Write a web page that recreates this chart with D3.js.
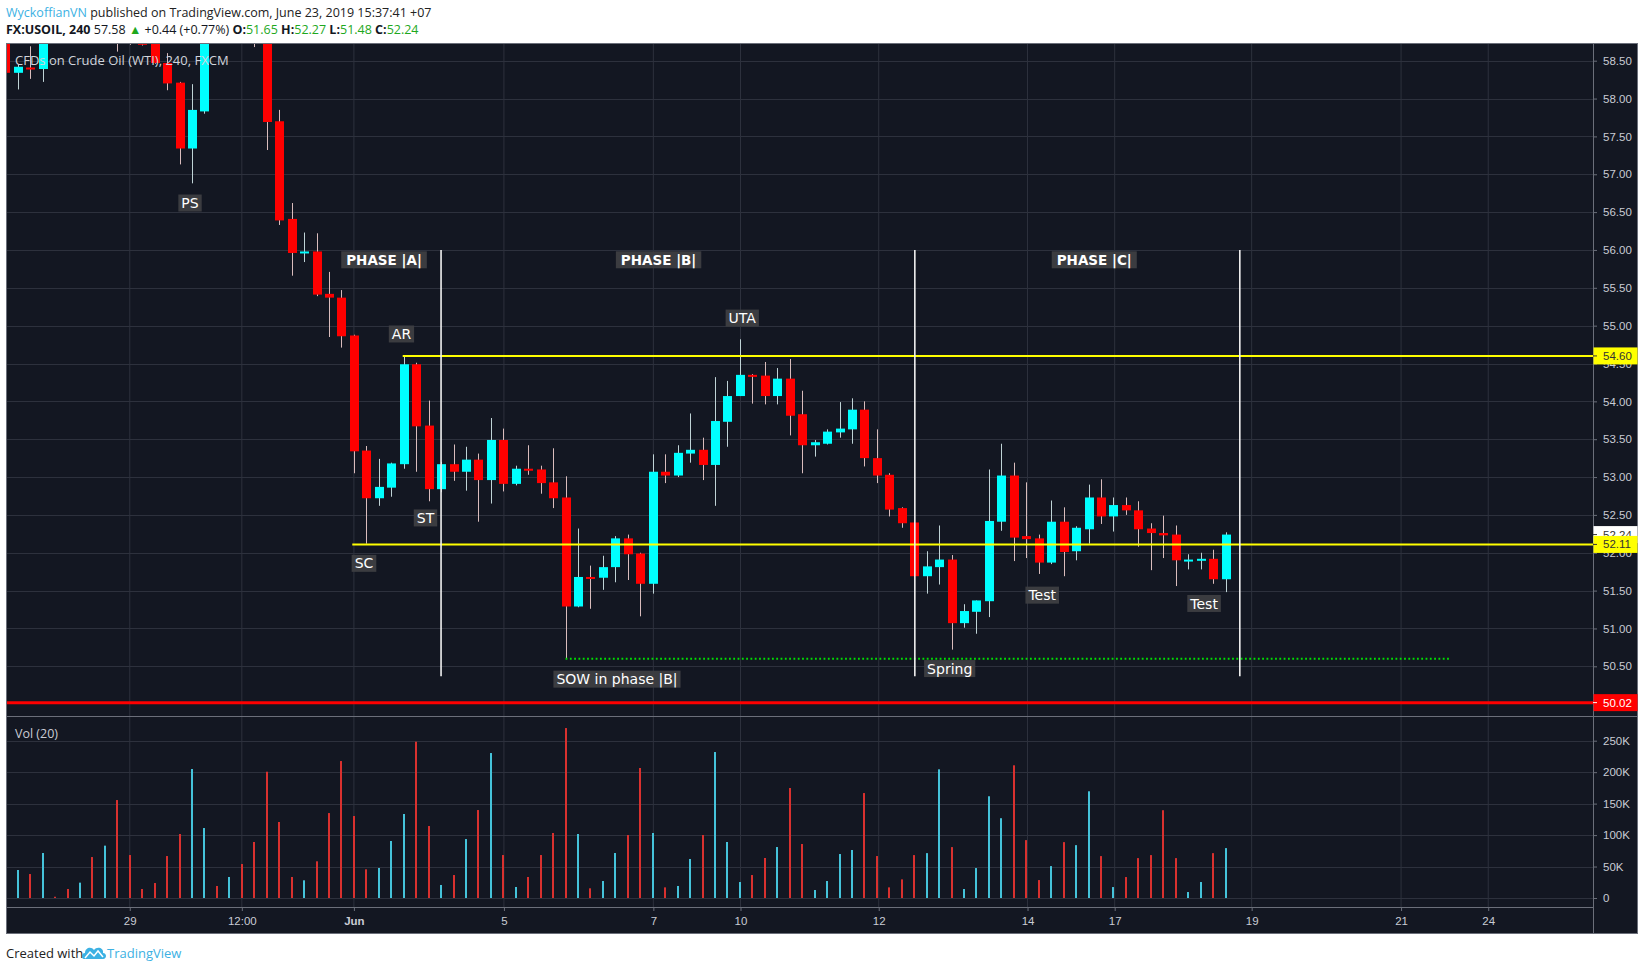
<!DOCTYPE html>
<html>
<head>
<meta charset="utf-8">
<script src="https://cdn.jsdelivr.net/npm/d3@7/dist/d3.min.js"></script>
<style>
body { margin: 0; background: #fff; }
svg { display: block; }
text { font-family: "Open Sans", sans-serif; }
.axis path { display: none; }
.axis line { stroke: #6b6f7a; }
.axis text { fill: #c9ccd4; font-family: "Liberation Sans", Arial, sans-serif; font-size: 11.5px; }
</style>
</head>
<body>
<svg id="chart" width="1645" height="971"></svg>
<script>
// 4h candles, first entry is bar -1 (cut at the left edge)
var opens = [59.00,58.34,58.41,58.39,58.98,58.96,58.90,59.05,58.88,59.15,58.85,58.80,58.75,58.47,58.21,57.34,57.83,58.95,58.85,59.00,59.00,58.86,57.70,56.41,55.96,55.98,55.42,55.37,54.87,53.35,52.72,52.86,53.17,54.49,53.68,52.84,53.17,53.07,53.23,52.96,53.49,52.91,53.11,53.10,52.93,52.73,51.29,51.68,51.67,51.81,52.19,51.99,51.59,53.07,53.02,53.31,53.36,53.16,53.73,54.07,54.35,54.34,54.07,54.30,53.83,53.42,53.44,53.59,53.63,53.89,53.25,53.03,52.59,52.40,51.69,51.81,51.91,51.07,51.22,51.36,52.41,53.02,52.22,52.19,51.87,52.41,52.02,52.31,52.73,52.48,52.63,52.56,52.32,52.26,52.24,51.90,51.90,51.92,51.65];
var highs = [59.10,58.45,58.69,59.05,59.05,59.10,59.15,59.20,59.30,59.25,59.00,58.95,58.85,58.60,58.22,58.19,59.10,59.05,59.10,59.05,59.05,58.95,57.85,56.62,56.23,56.22,55.71,55.47,54.88,53.41,53.24,53.19,54.61,54.51,54.01,53.20,53.43,53.40,53.31,53.78,53.64,53.15,53.42,53.15,53.38,53.01,52.32,51.83,51.96,52.22,52.24,52.00,53.30,53.30,53.42,53.84,53.52,54.32,54.27,54.82,54.36,54.52,54.44,54.56,54.14,53.49,53.63,53.99,54.04,54.00,53.63,53.05,52.60,52.41,52.02,52.36,51.97,51.32,51.37,53.10,53.44,53.19,52.93,52.24,52.69,52.60,52.35,52.90,52.97,52.73,52.73,52.68,52.39,52.49,52.36,51.98,52.00,52.04,52.27];
var lows = [58.30,58.12,58.26,58.22,58.92,58.85,58.82,58.80,58.80,58.62,58.71,58.70,58.46,58.11,57.13,56.88,57.80,58.80,58.78,58.75,58.68,57.32,56.33,55.66,55.84,55.39,54.85,54.71,53.05,52.12,52.62,52.74,53.11,53.07,52.68,52.80,52.95,52.82,52.41,52.65,52.81,52.89,53.03,52.78,52.59,50.60,51.28,51.26,51.51,51.61,51.64,51.16,51.46,52.92,53.00,53.19,52.96,52.62,53.40,54.07,53.97,53.96,53.96,53.55,53.05,53.27,53.43,53.52,53.44,53.14,52.92,52.48,52.33,51.68,51.46,51.58,50.72,51.01,50.93,51.15,52.29,51.89,51.93,51.72,51.85,51.69,51.90,52.12,52.38,52.28,52.50,52.08,51.77,51.93,51.56,51.78,51.78,51.59,51.48];
var closes = [58.34,58.42,58.39,58.95,58.96,58.90,59.05,58.88,59.15,58.85,58.80,58.71,58.47,58.20,57.34,57.85,58.95,58.85,59.00,58.80,58.86,57.69,56.39,55.96,55.98,55.41,55.37,54.86,53.34,52.72,52.87,53.18,54.49,53.67,52.84,53.17,53.07,53.23,52.96,53.49,52.91,53.11,53.09,52.92,52.72,51.29,51.68,51.67,51.81,52.19,51.98,51.59,53.07,53.02,53.32,53.36,53.16,53.74,54.07,54.35,54.33,54.07,54.30,53.81,53.42,53.46,53.60,53.64,53.89,53.25,53.02,52.57,52.39,51.69,51.82,51.91,51.07,51.23,51.37,52.42,53.02,52.20,52.18,51.87,52.41,52.01,52.33,52.73,52.48,52.63,52.56,52.31,52.26,52.23,51.90,51.91,51.92,51.65,52.24];
var volumes = [40000,44500,38100,71500,2000,14300,24400,65100,83200,155700,68300,14300,23800,66700,101700,205000,111200,19100,33400,54000,89000,200700,120800,33400,28100,58300,135000,217700,130300,45600,47700,90600,133500,248400,114400,20700,36500,93700,139800,230400,68300,17500,33400,68300,103300,270100,101700,15400,27000,71500,100100,206600,103300,16900,19100,62000,100100,232000,89000,25400,36500,63600,81000,174800,85800,12700,27000,69900,76300,166800,66700,16900,29600,68200,71300,204500,80900,14300,47600,161700,126800,210900,92000,28500,50700,88800,84000,169600,66600,17400,33300,63400,68200,139500,63400,9500,25400,71300,79300];
var firstBar = -1;

var xTickBars = [9, 18, 27, 39.05, 51.05, 58.05, 69.15, 81.1, 88.1, 99.1, 111.1, 118.1];
var xTickLabels = ["29", "12:00", "Jun", "5", "7", "10", "12", "14", "17", "19", "21", "24"];
var priceTicks = [50.5, 51, 51.5, 52, 52.5, 53, 53.5, 54, 54.5, 55, 55.5, 56, 56.5, 57, 57.5, 58, 58.5];
var volTicks = [0, 50000, 100000, 150000, 200000, 250000];

// drawn levels
var resistLevel = 54.60, resistFromBar = 30.92;
var supportLevel = 52.11, supportFromBar = 26.87;
var stopLevel = 50.02;
var lastClose = 52.24;
var sowLevel = 50.60, sowFromBar = 44, sowToBar = 115.1;
var phaseBars = [34, 72.05, 98.15];
var phaseTop = 56.0, phaseBottom = 50.37;

// annotations
var noteText = ["PS", "PHASE |A|", "PHASE |B|", "PHASE |C|", "AR", "UTA", "ST", "SC", "SOW in phase |B|", "Spring", "Test", "Test"];
var noteBar = [13.84, 29.42, 51.47, 86.46, 30.82, 58.19, 32.75, 27.81, 48.13, 74.85, 82.28, 95.28];
var notePrice = [56.62, 55.87, 55.87, 55.87, 54.89, 55.10, 52.46, 51.86, 50.33, 50.47, 51.44, 51.33];
var noteBold = [false, true, true, true, false, false, false, false, false, false, false, false];

var box = {left: 6, top: 43, right: 1638, bottom: 934, axisX: 1593, priceBottom: 716, volBottom: 907};
var upColor = "#00ffff", downColor = "#ff0000";
var volUp = "#45c3da", volDown = "#d9312f";
var gridColor = "#2d313d";

var svg = d3.select("#chart");

var x = d3.scaleLinear().domain([0, 97]).range([17.7, 1225.5]);
var y = d3.scaleLinear().domain([50.5, 58.5]).range([666.3, 60.7]);
var yv = d3.scaleLinear().domain([0, 250000]).range([898, 740.7]);

var bars = opens.map(function(o, k) {
  return {i: k + firstBar, o: o, h: highs[k], l: lows[k], c: closes[k], v: volumes[k]};
});

// header
var head1 = svg.append("text").attr("x", 6).attr("y", 17).style("font-size", "12.5px").attr("fill", "#222");
head1.append("tspan").attr("fill", "#3cb1e3").text("WyckoffianVN");
head1.append("tspan").text(" published on TradingView.com, June 23, 2019 15:37:41 +07");

var head2 = svg.append("text").attr("x", 6).attr("y", 34).style("font-size", "12.5px").attr("fill", "#131722");
var green = "#1ea81e";
[["FX:USOIL, 240", null, true], [" 57.58 ", null, false], ["\u25B2", green, false], [" +0.44 (+0.77%) ", null, false],
 ["O:", null, true], ["51.65", green, false], [" H:", null, true], ["52.27", green, false],
 [" L:", null, true], ["51.48", green, false], [" C:", null, true], ["52.24", green, false]]
  .forEach(function(p) {
    var t = head2.append("tspan").text(p[0]);
    if (p[1]) t.attr("fill", p[1]);
    if (p[2]) t.style("font-weight", "bold");
  });

// chart frame
svg.append("rect").attr("x", box.left).attr("y", box.top)
  .attr("width", box.right - box.left).attr("height", box.bottom - box.top)
  .attr("fill", "#131722");

var defs = svg.append("defs");
defs.append("clipPath").attr("id", "clipPrice").append("rect")
  .attr("x", box.left).attr("y", box.top).attr("width", box.axisX - box.left).attr("height", box.priceBottom - box.top);
defs.append("clipPath").attr("id", "clipVol").append("rect")
  .attr("x", box.left).attr("y", box.priceBottom).attr("width", box.axisX - box.left).attr("height", box.volBottom - box.priceBottom);

// grid
var grid = svg.append("g");
grid.selectAll("line.vx").data(xTickBars).join("line")
  .attr("x1", function(d) { return x(d); }).attr("x2", function(d) { return x(d); })
  .attr("y1", box.top).attr("y2", box.volBottom)
  .attr("stroke", gridColor).attr("stroke-width", 1);
grid.selectAll("line.hp").data(priceTicks).join("line")
  .attr("x1", box.left).attr("x2", box.axisX)
  .attr("y1", function(d) { return Math.round(y(d)) + 0.5; }).attr("y2", function(d) { return Math.round(y(d)) + 0.5; })
  .attr("stroke", gridColor);
grid.selectAll("line.hv").data(volTicks).join("line")
  .attr("x1", box.left).attr("x2", box.axisX)
  .attr("y1", function(d) { return Math.round(yv(d)) + 0.5; }).attr("y2", function(d) { return Math.round(yv(d)) + 0.5; })
  .attr("stroke", gridColor);

// candles
var plot = svg.append("g").attr("clip-path", "url(#clipPrice)");
var candle = plot.selectAll("g.c").data(bars).join("g");
candle.append("line")
  .attr("x1", function(d) { return Math.round(x(d.i)) + 0.5; })
  .attr("x2", function(d) { return Math.round(x(d.i)) + 0.5; })
  .attr("y1", function(d) { return y(d.h); })
  .attr("y2", function(d) { return y(d.l); })
  .attr("stroke", function(d) { return d.c >= d.o ? "#bfd3d6" : "#d9bcbc"; })
  .attr("stroke-width", 1);
candle.append("rect")
  .attr("x", function(d) { return Math.round(x(d.i)) - 4; })
  .attr("width", 9)
  .attr("y", function(d) { return y(Math.max(d.o, d.c)); })
  .attr("height", function(d) { return Math.max(2, Math.abs(y(d.o) - y(d.c))); })
  .attr("fill", function(d) { return d.c >= d.o ? upColor : downColor; });

// volume
var vol = svg.append("g").attr("clip-path", "url(#clipVol)");
vol.selectAll("rect").data(bars).join("rect")
  .attr("x", function(d) { return Math.round(x(d.i)) - 1; })
  .attr("width", 2)
  .attr("y", function(d) { return yv(d.v); })
  .attr("height", function(d) { return yv(0) - yv(d.v); })
  .attr("fill", function(d) { return d.c >= d.o ? volUp : volDown; });

// drawings
var draw = svg.append("g").attr("clip-path", "url(#clipPrice)");
draw.append("line")
  .attr("x1", x(resistFromBar)).attr("x2", box.axisX)
  .attr("y1", y(resistLevel)).attr("y2", y(resistLevel))
  .attr("stroke", "#ffff00").attr("stroke-width", 2);
draw.append("line")
  .attr("x1", x(supportFromBar)).attr("x2", box.axisX)
  .attr("y1", y(supportLevel)).attr("y2", y(supportLevel))
  .attr("stroke", "#ffff00").attr("stroke-width", 2);
draw.append("line")
  .attr("x1", box.left).attr("x2", box.axisX)
  .attr("y1", y(stopLevel)).attr("y2", y(stopLevel))
  .attr("stroke", "#ff0000").attr("stroke-width", 3);
draw.append("line")
  .attr("x1", x(sowFromBar)).attr("x2", x(sowToBar))
  .attr("y1", y(sowLevel)).attr("y2", y(sowLevel))
  .attr("stroke", "#00e000").attr("stroke-width", 1.8).attr("stroke-dasharray", "1.8,2.5");
draw.selectAll("line.ph").data(phaseBars).join("line")
  .attr("x1", function(d) { return x(d); }).attr("x2", function(d) { return x(d); })
  .attr("y1", y(phaseTop)).attr("y2", y(phaseBottom))
  .attr("stroke", "#f0f0f0").attr("stroke-width", 1.6);

// legend texts
svg.append("text").attr("x", 15).attr("y", 65).attr("fill", "#d1d4dc")
  .style("font-size", "13px").text("CFDs on Crude Oil (WTI), 240, FXCM");
svg.append("text").attr("x", 15).attr("y", 738).attr("fill", "#c9ccd4")
  .style("font-size", "12.5px").text("Vol (20)");

// annotations
var notes = draw.selectAll("g.note").data(noteText).join("g")
  .attr("transform", function(d, i) { return "translate(" + x(noteBar[i]) + "," + y(notePrice[i]) + ")"; });
notes.append("text")
  .attr("text-anchor", "middle").attr("dy", "0.36em")
  .attr("fill", "#ffffff")
  .style("font-family", "'DejaVu Sans', sans-serif")
  .style("font-size", function(d, i) { return noteBold[i] ? "13.5px" : "14px"; })
  .style("font-weight", function(d, i) { return noteBold[i] ? "bold" : "normal"; })
  .text(function(d) { return d; });
notes.each(function(d, i) {
  var g = d3.select(this);
  var w = g.select("text").node().getComputedTextLength();
  var pad = noteBold[i] ? 5 : 3;
  g.insert("rect", "text")
    .attr("x", -w / 2 - pad).attr("y", -8.5)
    .attr("width", w + 2 * pad).attr("height", 17)
    .attr("fill", "#3d3e42").attr("fill-opacity", 0.95);
});

// separators and frame lines
svg.append("line").attr("x1", box.left).attr("x2", box.right)
  .attr("y1", box.priceBottom + 0.5).attr("y2", box.priceBottom + 0.5).attr("stroke", "#6b6f7a");
svg.append("line").attr("x1", box.left).attr("x2", box.axisX)
  .attr("y1", box.volBottom + 0.5).attr("y2", box.volBottom + 0.5).attr("stroke", "#6b6f7a");
svg.append("line").attr("x1", box.axisX + 0.5).attr("x2", box.axisX + 0.5)
  .attr("y1", box.top).attr("y2", box.bottom).attr("stroke", "#6b6f7a");
svg.append("rect").attr("x", box.left + 0.5).attr("y", box.top + 0.5)
  .attr("width", box.right - box.left - 1).attr("height", box.bottom - box.top - 1)
  .attr("fill", "none").attr("stroke", "#6b6f7a");

// axes
var priceAxis = d3.axisRight(y).tickValues(priceTicks).tickSize(4).tickPadding(6)
  .tickFormat(d3.format(".2f"));
svg.append("g").attr("class", "axis").attr("transform", "translate(" + box.axisX + ",0)").call(priceAxis);

var volAxis = d3.axisRight(yv).tickValues(volTicks).tickSize(4).tickPadding(6)
  .tickFormat(function(d) { return d === 0 ? "0" : (d / 1000) + "K"; });
svg.append("g").attr("class", "axis").attr("transform", "translate(" + box.axisX + ",0)").call(volAxis);

var timeAxis = d3.axisBottom(x).tickValues(xTickBars).tickSize(4).tickPadding(6)
  .tickFormat(function(d, i) { return xTickLabels[i]; });
var ta = svg.append("g").attr("class", "axis").attr("transform", "translate(0," + box.volBottom + ")").call(timeAxis);
ta.selectAll("text").style("font-weight", function(d, i) { return xTickLabels[i] === "Jun" ? "bold" : "normal"; });

// price tags on the right scale
var tags = [
  {p: lastClose, bg: "#ffffff", fg: "#333"},
  {p: supportLevel, bg: "#ffff00", fg: "#333"},
  {p: resistLevel, bg: "#ffff00", fg: "#333"},
  {p: stopLevel, bg: "#ff0000", fg: "#fff"}
];
var tag = svg.append("g").selectAll("g").data(tags).join("g")
  .attr("transform", function(d) { return "translate(" + box.axisX + "," + y(d.p) + ")"; });
tag.append("rect").attr("x", 0.5).attr("y", -8.5).attr("width", box.right - box.axisX - 1).attr("height", 17)
  .attr("fill", function(d) { return d.bg; });
tag.append("line").attr("x1", 0).attr("x2", 4).attr("stroke", function(d) { return d.fg; });
tag.append("text").attr("x", 10).attr("dy", "0.35em")
  .attr("fill", function(d) { return d.fg; })
  .style("font-family", "'Liberation Sans', Arial, sans-serif").style("font-size", "11.5px")
  .text(function(d) { return d.p.toFixed(2); });

// footer
svg.append("text").attr("x", 6).attr("y", 958).attr("fill", "#222")
  .style("font-size", "13px").text("Created with");
var logo = svg.append("g").attr("transform", "translate(82,946)");
logo.append("path")
  .attr("d", "M2,13 C-1,13 -1,7 3,7 C3,2 9,0 12,4 C15,0 22,2 21,7 C25,7 25,13 21,13 Z")
  .attr("fill", "#3cb1e3");
logo.append("path").attr("d", "M3,12 L8,6 L12,10 L16,5 L21,11")
  .attr("fill", "none").attr("stroke", "#fff").attr("stroke-width", 1.5);
svg.append("text").attr("x", 107).attr("y", 958).attr("fill", "#3cb1e3")
  .style("font-size", "13px").text("TradingView");
</script>
</body>
</html>
